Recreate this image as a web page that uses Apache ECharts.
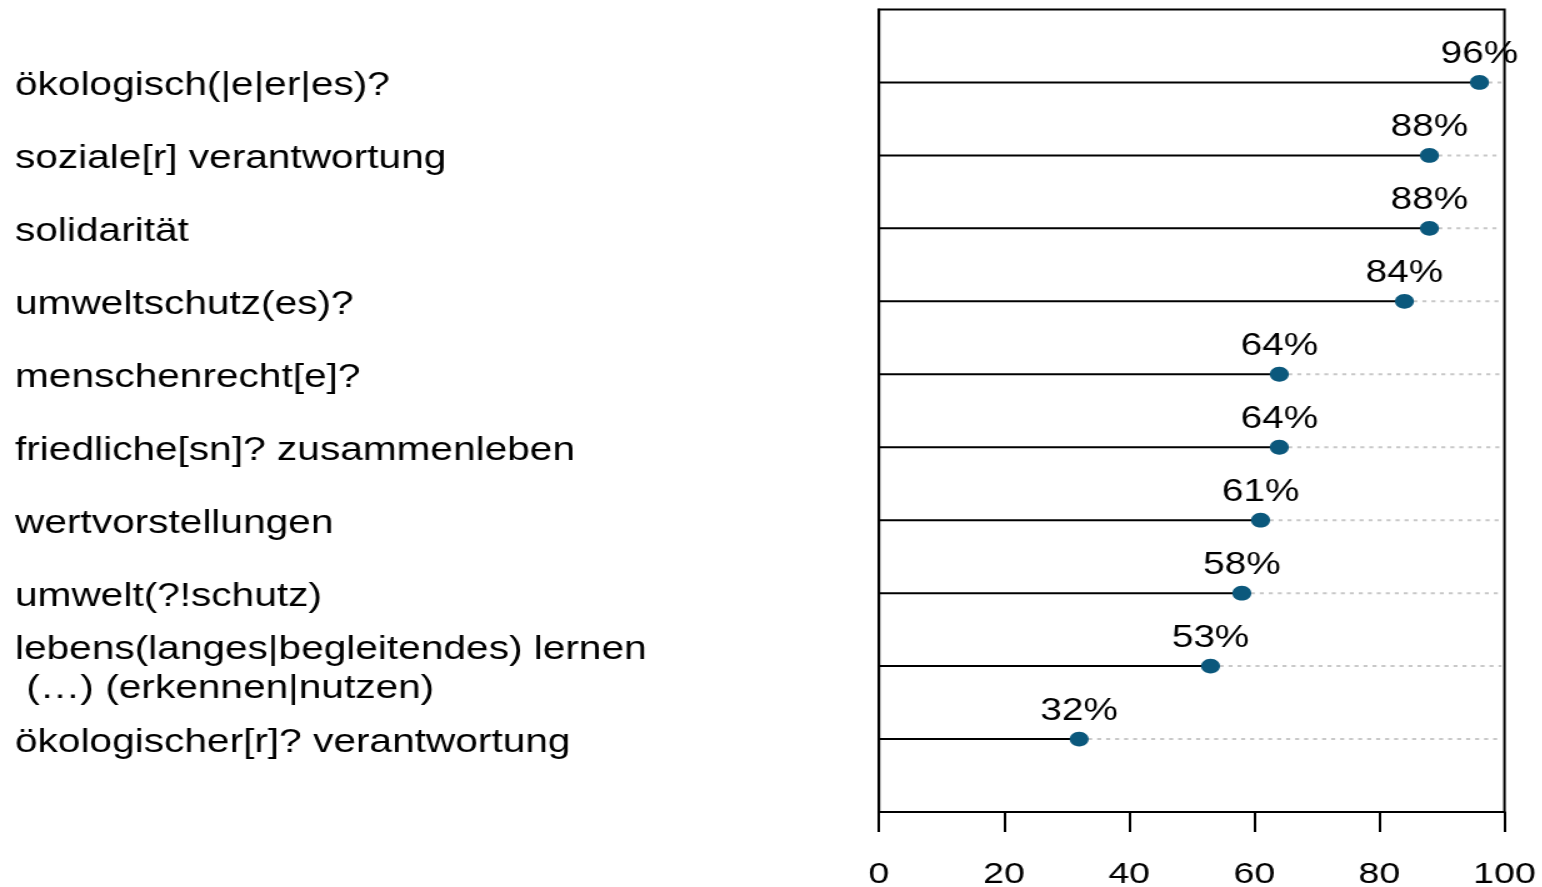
<!DOCTYPE html>
<html>
<head>
<meta charset="utf-8">
<script src="https://cdn.jsdelivr.net/npm/echarts@6/dist/echarts.min.js"></script>
<style>
html,body{margin:0;padding:0;overflow:hidden;background:#fff;width:1542px;height:887px;}
#chart{width:1234px;height:887px;transform:scaleX(1.25);transform-origin:0 0;}
</style>
</head>
<body>
<div id="chart"></div>
<script>
const categories = [
  'ökologisch(|e|er|es)?',
  'soziale[r] verantwortung',
  'solidarität',
  'umweltschutz(es)?',
  'menschenrecht[e]?',
  'friedliche[sn]? zusammenleben',
  'wertvorstellungen',
  'umwelt(?!schutz)',
  'lebens(langes|begleitendes) lernen\n (…) (erkennen|nutzen)',
  'ökologischer[r]? verantwortung'
];
const values = [96, 88, 88, 84, 64, 64, 61, 58, 53, 32];
const xTicks = [0, 20, 40, 60, 80, 100];

const FONT = '"Liberation Sans", Arial, sans-serif';
const chart = echarts.init(document.getElementById('chart'), null, {renderer: 'canvas'});

const data = values.map((v, i) => [v, i + 1]);

chart.setOption({
  animation: false,
  backgroundColor: '#fff',
  grid: {
    left: 703.2, right: 30.4, top: 9.5, bottom: 75,
    containLabel: false, outerBoundsMode: 'none',
    show: true, borderColor: '#000', borderWidth: 2, backgroundColor: 'transparent'
  },
  xAxis: {
    type: 'value', position: 'bottom', min: xTicks[0], max: xTicks[xTicks.length - 1], interval: 20,
    axisLine: {show: true, onZero: false, lineStyle: {color: '#000', width: 2}},
    axisTick: {show: true, inside: false, length: 20, lineStyle: {color: '#000', width: 2}},
    splitLine: {show: false},
    axisLabel: {
      color: '#000', fontSize: 30, fontFamily: FONT, margin: 48,
      formatter: v => xTicks.includes(v) ? String(v) : ''
    }
  },
  yAxis: {
    type: 'value', min: 0, max: categories.length + 1, interval: 1, inverse: true,
    axisLine: {show: true, onZero: false, lineStyle: {color: '#000', width: 2}},
    axisTick: {show: false},
    splitLine: {show: false},
    axisLabel: {show: false}
  },
  series: [{
    type: 'custom',
    data: data,
    clip: false,
    renderItem: function (params, api) {
      const v = api.value(0), idx = api.value(1);
      const p0 = api.coord([0, idx]);
      const p1 = api.coord([v, idx]);
      const p2 = api.coord([100, idx]);
      return {
        type: 'group',
        children: [
          {type: 'text', x: 12, y: p0[1] + 3.5,
           style: {text: categories[idx - 1], fill: '#000', font: '32.5px ' + FONT,
                   align: 'left', verticalAlign: 'middle', lineHeight: 39}},
          {type: 'line', shape: {x1: p1[0], y1: p1[1], x2: p2[0] - 2.5, y2: p2[1]},
           style: {stroke: '#c8c8c8', lineWidth: 2, lineDash: [3.2, 4]}},
          {type: 'line', shape: {x1: p0[0], y1: p0[1], x2: p1[0], y2: p1[1]},
           style: {stroke: '#000', lineWidth: 2}},
          {type: 'ellipse', shape: {cx: p1[0], cy: p1[1], rx: 7.6, ry: 7.4},
           style: {fill: '#0b587c'}},
          {type: 'text', x: p1[0], y: p1[1] - 28,
           style: {text: v + '%', fill: '#000', font: '31px ' + FONT, align: 'center', verticalAlign: 'middle'}}
        ]
      };
    }
  }]
});
</script>
</body>
</html>
